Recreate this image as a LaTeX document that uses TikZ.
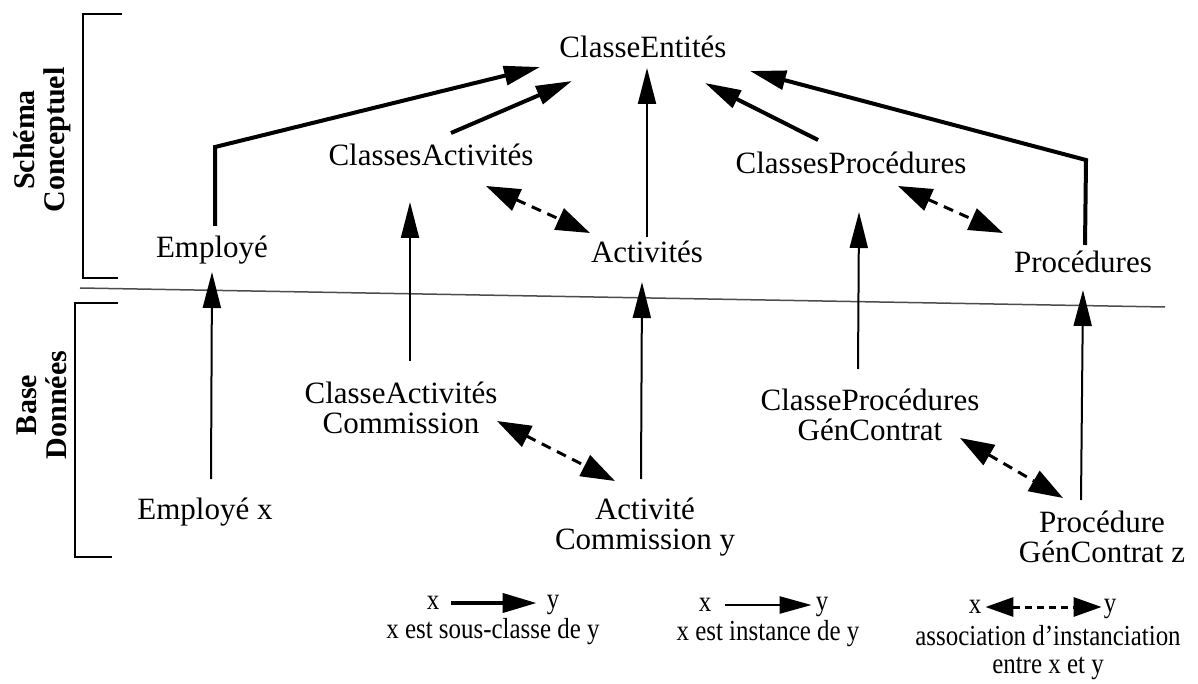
\documentclass[tikz,border=0pt]{standalone}
\usepackage{fontspec}
\setmainfont{Liberation Serif}
\usetikzlibrary{arrows.meta,calc}
\newcommand{\narrow}[1]{\scalebox{0.86}[1]{#1}}
\begin{document}
\begin{tikzpicture}[x=1pt,y=-1pt,
  lbl/.style={font=\fontsize{31}{30}\selectfont, align=center, inner sep=0pt},
  side/.style={font=\bfseries\fontsize{30}{30}\selectfont, align=center, rotate=90, inner sep=0pt},
  leg/.style={font=\fontsize{29}{30}\selectfont, align=center, inner sep=0pt},
  sub/.style={line width=4pt, -{Triangle[length=36pt,width=19pt]}},
  inst/.style={line width=2pt, -{Triangle[length=36pt,width=18pt]}},
  assoc/.style={line width=3pt, dash pattern=on 10pt off 7pt,
     {Triangle[length=34pt,width=23pt]}-{Triangle[length=34pt,width=23pt]}},
  legsub/.style={line width=4pt, -{Triangle[length=34pt,width=19pt]}},
  leginst/.style={line width=2.5pt, -{Triangle[length=32pt,width=17pt]}},
  legassoc/.style={line width=3pt, dash pattern=on 7pt off 5pt,
     {Triangle[length=28pt,width=19pt]}-{Triangle[length=28pt,width=19pt]}},
  brk/.style={line width=2.5pt},
  sep/.style={line width=1.5pt, black!70}]
\fill[white] (0,0) rectangle (1198,684);
\useasboundingbox (0,0) rectangle (1198,684);

% side labels
\node[side] (sc) at (42,140) {Schéma\\Conceptuel};
\node[side] (bd) at (42,405) {Base\\Données};
\draw[brk] (122,14) -- (83,14) -- (83,278) -- (118,278);
\draw[brk] (118,303) -- (75,303) -- (75,557) -- (112,557);

% separator
\draw[sep] (80,288) -- (1165,307);

% nodes
\node[lbl] (ce) at (643,47) {ClasseEntités};
\node[lbl] (ca) at (431,155) {ClassesActivités};
\node[lbl] (cp) at (851,163) {ClassesProcédures};
\node[lbl] (emp) at (212,250) {Employé};
\node[lbl] (act) at (647,252) {Activités};
\node[lbl] (proc) at (1083,262) {Procédures};
\node[lbl] (cac) at (401,408) {ClasseActivités\\Commission};
\node[lbl] (empx) at (205,512) {Employé x};
\node[lbl] (acy) at (645,527) {Activité\\Commission y};
\node[lbl] (cpg) at (870,415) {ClasseProcédures\\GénContrat};
\node[lbl] (pgz) at (1102,537) {Procédure\\GénContrat z};

% sous-classe
\draw[sub] ($(emp)+(3,-24)$) -- ($(emp)+(3,-103)$) -- ($(ce)+(-103,20)$);
\draw[sub] ($(ca)+(20,-22)$) -- ($(ce)+(-71,34)$);
\draw[sub] ($(cp)+(-33,-23)$) -- ($(ce)+(62,36)$);
\draw[sub] ($(proc)+(2,-17)$) -- ($(proc)+(3,-102)$) -- ($(ce)+(107,24)$);
% instance
\draw[inst] ($(act)+(0,-15)$) -- ($(ce)+(4,21)$);
\draw[inst] ($(empx)+(6,-33)$) -- ($(emp)+(0,22)$);
\draw[inst] ($(cac)+(9,-47)$) -- ($(ca)+(-21,47)$);
\draw[inst] ($(acy)+(-4,-48)$) -- ($(act)+(-5,30)$);
\draw[inst] ($(cpg)+(-12,-46)$) -- ($(cp)+(8,49)$);
\draw[inst] ($(pgz)+(-21,-37)$) -- ($(proc)+(0,28)$);
% association
\draw[assoc] ($(ca)+(55,31)$) -- ($(act)+(-57,-19)$);
\draw[assoc] ($(cp)+(47,23)$) -- ($(proc)+(-80,-29)$);
\draw[assoc] ($(cac)+(96,13)$) -- ($(acy)+(-30,-46)$);
\draw[assoc] ($(cpg)+(90,23)$) -- ($(pgz)+(-39,-39)$);

% legend
\node[leg] (lx1) at (433,603) {\narrow{x}};
\node[leg] (ly1) at (553,605) {\narrow{y}};
\draw[legsub] ($(lx1.east)+(12,0)$) -- ($(lx1.east -| ly1.west)+(-10,0)$);
\node[leg] (lt1) at (493,632) {\narrow{x est sous-classe de y}};

\node[leg] (lx2) at (705,605) {\narrow{x}};
\node[leg] (ly2) at (822,607) {\narrow{y}};
\draw[leginst] ($(lx2.east)+(14,0)$) -- ($(lx2.east -| ly2.west)+(-4,0)$);
\node[leg] (lt2) at (768,634) {\narrow{x est instance de y}};

\node[leg] (lx3) at (975,607) {\narrow{x}};
\node[leg] (ly3) at (1110,609) {\narrow{y}};
\draw[legassoc] ($(lx3.east)+(4,0)$) -- ($(lx3.east -| ly3.west)+(-2,0)$);
\node[leg] (lt3) at (1048,636) {\narrow{association d'instanciation}};
\node[leg] (lt4) at (1048,668) {\narrow{entre x et y}};
\end{tikzpicture}
\end{document}
